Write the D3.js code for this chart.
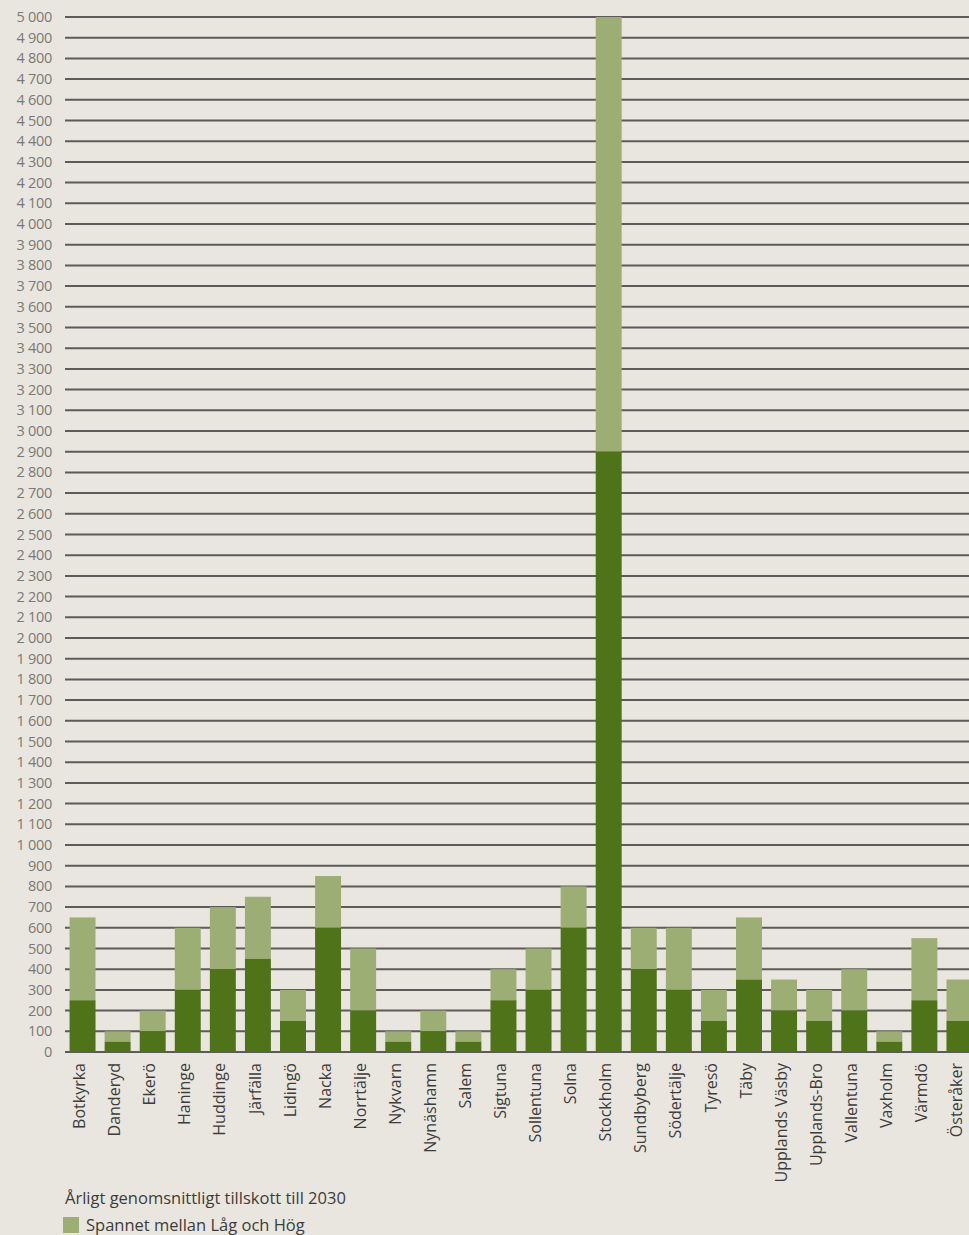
<!DOCTYPE html>
<html>
<head>
<meta charset="utf-8">
<script src="https://cdn.jsdelivr.net/npm/d3@7"></script>
<style>
  body { margin: 0; background: #e9e6e0; }
  svg { display: block; font-family: "Open Sans", "Noto Sans", sans-serif; }
</style>
</head>
<body>
<div id="chart"></div>
<script>
// Kommuner
const municipalities = ["Botkyrka", "Danderyd", "Ekerö", "Haninge", "Huddinge", "Järfälla", "Lidingö",
  "Nacka", "Norrtälje", "Nykvarn", "Nynäshamn", "Salem", "Sigtuna", "Sollentuna", "Solna", "Stockholm",
  "Sundbyberg", "Södertälje", "Tyresö", "Täby", "Upplands Väsby", "Upplands-Bro", "Vallentuna",
  "Vaxholm", "Värmdö", "Österåker"];

// Låg (dark) and Hög (top of light) values
const lowValues = [250, 50, 100, 300, 400, 450, 150, 600, 200, 50, 100, 50, 250, 300, 600, 2900,
  400, 300, 150, 350, 200, 150, 200, 50, 250, 150];
const highValues = [650, 100, 200, 600, 700, 750, 300, 850, 500, 100, 200, 100, 400, 500, 800, 5000,
  600, 600, 300, 650, 350, 300, 400, 100, 550, 350];

const yTicks = d3.range(0, 5001, 100);

const legendTitle = "Årligt genomsnittligt tillskott till 2030";
const legendLabel = "Spannet mellan Låg och Hög";

const W = 969, H = 1235;
const margin = {top: 17, right: -8, bottom: 183, left: 65};
const width = W - margin.left - margin.right,
    height = H - margin.top - margin.bottom;

const svg = d3.select("#chart")
    .append("svg")
    .attr("width", W)
    .attr("height", H)
    .style("background", "#e9e6e0");

const g = svg.append("g")
    .attr("transform", `translate(${margin.left},${margin.top})`);

const x = d3.scaleBand()
    .domain(municipalities)
    .range([0, width])
    .paddingInner(0.26)
    .paddingOuter(0.13);

const y = d3.scaleLinear()
    .domain([0, 5000])
    .range([height, 0]);

const fmt = v => d3.format(",")(v).replace(/,/g, " ");

// gridlines
g.append("g")
    .selectAll("line")
    .data(yTicks)
    .join("line")
    .attr("x1", 0)
    .attr("x2", W)
    .attr("y1", d => y(d))
    .attr("y2", d => y(d))
    .attr("stroke", "#5c5b59")
    .attr("stroke-width", 2);

// y tick labels
g.append("g")
    .selectAll("text")
    .data(yTicks)
    .join("text")
    .attr("x", -13)
    .attr("y", d => y(d))
    .attr("dy", "0.35em")
    .attr("text-anchor", "end")
    .attr("font-size", "14.5px")
    .attr("letter-spacing", "-0.3px")
    .attr("fill", "#7a7976")
    .text(d => fmt(d));

const data = municipalities.map((m, i) => ({name: m, low: lowValues[i], high: highValues[i]}));

// light part (range Låg - Hög)
g.append("g")
    .selectAll("rect")
    .data(data)
    .join("rect")
    .attr("x", d => x(d.name))
    .attr("width", x.bandwidth())
    .attr("y", d => y(d.high))
    .attr("height", d => y(d.low) - y(d.high))
    .attr("fill", "#9cae74");

// dark part (Låg)
g.append("g")
    .selectAll("rect")
    .data(data)
    .join("rect")
    .attr("x", d => x(d.name))
    .attr("width", x.bandwidth())
    .attr("y", d => y(d.low))
    .attr("height", d => y(0) - y(d.low))
    .attr("fill", "#4e7318");

// x labels
g.append("g")
    .selectAll("text")
    .data(municipalities)
    .join("text")
    .attr("transform", d => `translate(${x(d) + x.bandwidth() / 2 - 3},${height + 11}) rotate(-90)`)
    .attr("dy", "0.35em")
    .attr("text-anchor", "end")
    .attr("font-size", "16px")
    .attr("fill", "#3d3c3a")
    .text(d => d);

// legend
svg.append("text")
    .attr("x", 65)
    .attr("y", 1204)
    .attr("font-size", "16.5px")
    .attr("fill", "#3d3c3a")
    .text(legendTitle);

svg.append("rect")
    .attr("x", 63)
    .attr("y", 1217)
    .attr("width", 16)
    .attr("height", 16)
    .attr("fill", "#9cae74");

svg.append("text")
    .attr("x", 86)
    .attr("y", 1231)
    .attr("font-size", "16.5px")
    .attr("fill", "#3d3c3a")
    .text(legendLabel);
</script>
</body>
</html>
